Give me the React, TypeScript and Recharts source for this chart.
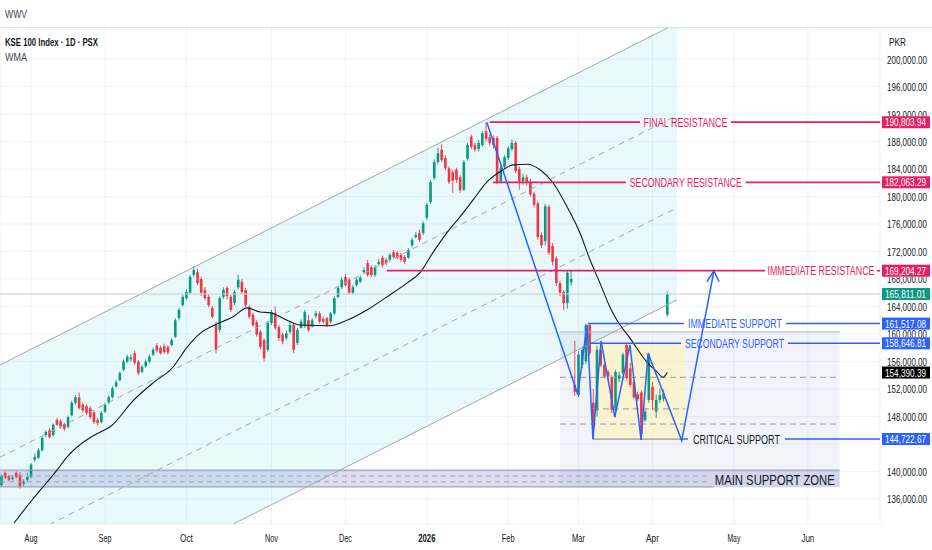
import React from "react";
import {
  ComposedChart,
  Bar,
  Line,
  Area,
  XAxis,
  YAxis,
  CartesianGrid,
  ReferenceLine,
  ReferenceArea,
} from "recharts";

// x axis is the bar index, 0 = first session of Aug 2025
const monthLabels = ["Aug", "Sep", "Oct", "Nov", "Dec", "2026", "Feb", "Mar", "Apr", "May", "Jun"];
const monthStarts = [0, 20, 42, 65, 85, 107, 129, 148, 168, 190, 210];

// daily candles [open, high, low, close], thousands of PKR, from bar -8
const firstBar = -8;
const candles = [
  [138.0, 139.6, 137.8, 139.3], [139.8, 140.0, 138.9, 139.1], [139.3, 139.5, 138.6, 138.8], [138.9, 139.4, 138.7, 139.1],
  [139.8, 140.0, 139.0, 139.2], [139.5, 139.9, 137.5, 137.8], [138.2, 138.9, 137.9, 138.5], [138.8, 139.8, 138.5, 139.2],
  // 0
  [139.2, 141.2, 139.0, 141.0], [141.7, 142.6, 141.4, 142.1], [142.0, 143.4, 141.8, 143.1], [143.1, 145.1, 142.9, 144.9],
  [145.3, 146.0, 145.0, 145.75], [146.0, 146.3, 144.8, 145.0], [145.3, 147.0, 145.1, 146.8], [147.5, 147.8, 146.6, 146.8],
  [147.3, 147.6, 146.2, 146.5], [146.9, 147.1, 145.9, 146.2],
  // 10
  [146.5, 148.1, 146.3, 147.9], [148.2, 150.3, 148.0, 150.0], [150.0, 151.1, 149.7, 150.8], [150.8, 151.5, 149.0, 149.2],
  [149.7, 150.0, 148.6, 148.9], [149.5, 149.8, 148.2, 148.5], [149.2, 149.5, 147.7, 147.9], [148.6, 148.9, 146.9, 147.2],
  [147.5, 147.8, 146.7, 147.05], [147.2, 148.8, 147.0, 148.5],
  // 20
  [148.7, 150.0, 148.5, 149.7], [150.0, 151.1, 149.8, 150.8], [150.8, 152.4, 150.6, 152.1], [152.4, 153.3, 152.2, 153.0],
  [153.3, 154.6, 153.1, 154.3], [154.8, 156.3, 154.6, 156.0], [156.0, 157.0, 155.8, 156.7], [156.3, 157.0, 156.0, 156.6],
  [157.2, 157.6, 155.5, 155.8], [156.0, 156.2, 154.0, 154.3],
  // 30
  [154.5, 155.5, 154.3, 155.2], [155.3, 156.3, 155.1, 156.0], [156.0, 157.0, 155.8, 156.7], [157.0, 158.0, 156.8, 157.7],
  [158.3, 158.7, 157.3, 157.6], [158.0, 158.3, 157.0, 157.2], [158.2, 158.6, 157.1, 157.4], [158.1, 158.4, 157.0, 157.3],
  [158.4, 159.4, 158.2, 159.1], [159.6, 162.3, 159.4, 162.0],
  // 40
  [162.3, 163.8, 162.0, 163.5], [164.2, 165.7, 164.0, 165.4], [165.2, 166.5, 165.0, 166.1], [166.0, 168.6, 165.8, 168.3],
  [168.6, 169.9, 168.3, 169.3], [169.0, 169.5, 167.1, 167.4], [168.0, 168.3, 165.5, 166.0], [166.4, 166.8, 164.9, 165.2],
  [165.4, 165.8, 163.9, 164.2], [163.8, 164.1, 162.2, 162.5],
  // 50
  [161.3, 161.8, 157.2, 157.7], [160.6, 165.5, 160.2, 165.2], [165.4, 166.8, 165.1, 166.4], [166.7, 167.0, 165.0, 165.5],
  [165.4, 165.7, 163.2, 163.5], [164.5, 166.4, 164.2, 166.1], [166.8, 168.6, 166.5, 167.9], [167.6, 168.0, 165.8, 166.1],
  [166.4, 166.7, 163.9, 164.2], [163.9, 164.2, 162.2, 162.5],
  // 60
  [162.8, 163.1, 161.0, 161.3], [161.7, 162.0, 159.6, 159.9], [160.3, 160.6, 157.8, 158.1], [159.1, 159.4, 156.0, 156.5],
  [157.7, 161.9, 157.4, 161.6], [161.6, 163.5, 161.3, 163.2], [163.1, 164.0, 160.6, 160.9], [161.0, 161.3, 159.0, 159.4],
  [159.9, 160.2, 158.5, 158.9], [159.4, 160.5, 159.1, 160.1],
  // 70
  [160.3, 161.7, 160.0, 161.3], [161.3, 161.6, 157.2, 157.7], [158.7, 160.9, 158.4, 160.6], [160.9, 162.1, 160.8, 161.8],
  [161.1, 163.5, 160.9, 163.2], [162.0, 162.8, 160.3, 160.6], [161.1, 162.3, 160.9, 162.0], [162.6, 163.4, 162.3, 163.0],
  [163.0, 163.3, 161.5, 161.8], [162.2, 162.5, 161.5, 161.8],
  // 80
  [162.3, 162.5, 161.0, 161.3], [161.8, 163.2, 161.5, 163.0], [163.0, 165.5, 162.8, 165.2], [165.4, 167.0, 165.2, 166.7],
  [166.8, 168.3, 166.5, 167.9], [168.3, 168.7, 166.9, 167.1], [167.9, 168.2, 165.7, 166.0], [166.0, 167.1, 165.8, 166.8],
  [167.1, 168.2, 166.9, 167.9], [167.6, 168.5, 167.4, 168.2],
  // 90
  [169.0, 169.7, 168.8, 169.3], [170.3, 170.8, 168.3, 168.6], [169.7, 170.0, 168.3, 168.6], [168.6, 170.0, 168.3, 169.7],
  [170.2, 170.9, 169.9, 170.5], [171.1, 171.4, 169.7, 170.0], [170.8, 171.1, 170.0, 170.3], [170.8, 171.8, 170.5, 171.5],
  [171.9, 172.2, 170.9, 171.2], [171.8, 172.1, 170.8, 171.1],
  // 100
  [171.5, 171.8, 170.5, 170.8], [171.2, 171.5, 170.2, 170.5], [171.1, 172.5, 170.9, 172.2], [172.9, 174.0, 172.6, 173.7],
  [174.1, 174.8, 173.9, 174.4], [174.7, 175.2, 173.4, 173.7], [174.7, 176.4, 174.4, 176.1], [176.9, 179.1, 176.6, 178.8],
  [179.2, 182.4, 178.9, 182.1], [182.7, 185.4, 182.4, 185.0],
  // 110
  [185.0, 187.1, 184.7, 186.3], [186.8, 187.6, 185.0, 185.3], [185.6, 186.0, 183.8, 184.1], [184.1, 184.4, 181.8, 182.1],
  [183.5, 183.9, 180.5, 182.3], [183.9, 184.2, 182.0, 182.4], [182.8, 183.1, 180.5, 180.9], [181.0, 185.3, 180.8, 185.0],
  [185.5, 187.8, 185.2, 187.5], [188.7, 189.0, 186.9, 187.2],
  // 120
  [187.5, 187.8, 186.5, 186.8], [186.9, 188.2, 186.6, 187.8], [187.5, 189.5, 187.2, 189.2], [189.5, 190.8, 188.0, 188.4],
  [188.6, 189.1, 187.4, 187.8], [188.5, 188.9, 187.0, 187.5], [188.5, 188.8, 181.8, 182.0], [182.2, 184.6, 181.9, 184.2],
  [184.3, 186.0, 184.0, 185.7], [185.6, 187.3, 185.3, 187.0],
  // 130
  [186.9, 188.3, 186.6, 187.8], [187.8, 188.1, 183.4, 183.7], [184.0, 184.4, 181.0, 182.2], [182.2, 183.3, 181.7, 182.8],
  [182.8, 183.2, 181.6, 182.2], [182.2, 182.6, 180.0, 180.3], [180.4, 180.7, 178.4, 178.8], [179.0, 179.3, 173.7, 174.1],
  [174.4, 174.8, 172.5, 172.9], [173.5, 178.9, 172.9, 178.6],
  // 140
  [178.5, 178.8, 171.5, 171.8], [172.8, 173.2, 170.0, 170.5], [171.0, 171.3, 167.0, 167.4], [167.4, 167.8, 165.5, 166.0],
  [166.1, 166.4, 163.5, 164.5], [164.5, 169.2, 163.7, 168.9], [167.5, 169.2, 167.0, 168.0], [152.6, 159.0, 151.0, 151.6],
  [151.1, 157.5, 150.8, 157.0], [155.5, 158.2, 155.0, 157.7],
  // 150
  [156.0, 161.5, 155.6, 161.3], [161.3, 161.5, 156.9, 157.2], [150.0, 152.0, 144.72, 146.4], [148.9, 158.3, 148.0, 157.7],
  [157.7, 158.6, 155.2, 155.5], [155.5, 155.8, 153.5, 153.8], [154.5, 154.8, 153.2, 153.8], [153.7, 154.0, 148.5, 149.0],
  [149.0, 154.8, 147.9, 154.5], [153.5, 154.5, 153.0, 154.0],
  // 160
  [154.3, 157.3, 154.0, 157.0], [158.4, 158.6, 153.3, 153.6], [155.0, 155.8, 152.3, 152.6], [153.0, 153.3, 150.5, 150.8],
  [151.2, 151.6, 150.2, 150.5], [151.5, 151.8, 144.6, 145.5], [147.5, 149.0, 147.2, 148.7], [150.4, 157.3, 150.0, 157.0],
  [152.3, 153.0, 148.9, 150.4], [148.7, 151.2, 147.8, 150.4],
  // 170
  [150.4, 152.1, 150.0, 151.1], [150.6, 151.9, 150.2, 151.4], [162.8, 166.2, 162.5, 165.81],
];

// WMA [bar, value]
const wmaPoints = [
  [-4.6, 132.5], [0.5, 136.0], [3, 137.6], [7, 140.2], [9.7, 142.1], [15.9, 144.9], [18.6, 145.7], [21.4, 146.5],
  [27.6, 150.3], [33, 152.9], [38.4, 155.2], [42.2, 158.1], [45.7, 160.1], [49.2, 161.2], [54.6, 162.5], [58.4, 163.8],
  [61.9, 163.2], [64.6, 163.1], [69.2, 162.0], [72.7, 161.3], [80.8, 161.2], [85.4, 162.0], [90.8, 163.5], [96.2, 165.4],
  [101.6, 167.4], [105.1, 168.9], [108.6, 171.8], [112.4, 174.7], [115.9, 177.0], [119.5, 179.5], [123.2, 182.1],
  [126.8, 183.6], [130.3, 184.6], [134.1, 184.7], [137.6, 183.9], [141.1, 182.0], [144.9, 178.5], [148.4, 174.7],
  [151.1, 170.8], [153.8, 167.4], [156.5, 163.9], [158.4, 162.0], [161.9, 159.4], [166.5, 155.9], [169.2, 154.5],
  [170.8, 153.7], [172, 154.39],
];

const priceTicks = [136, 140, 144, 148, 152, 156, 160, 164, 168, 172, 176, 180, 184, 188, 192, 196, 200];

// drawings [bar, price]
const channelTop = [[-8.38, 155.49], [174.6, 205.22]];
const channelBottom = [[-8.38, 115.22], [174.6, 164.95]];
const channelInner = [
  [[-8.38, 142.07], [174.6, 191.8]],
  [[-8.38, 128.64], [174.6, 178.37]],
];
const swingPath = [
  [123.2, 190.8], [147.8, 151.2], [150.3, 161.3], [151.9, 144.7], [154.1, 159.0], [157.8, 147.9], [161.9, 158.4],
  [164.9, 144.6], [166.8, 157.2], [175.9, 144.5], [184.6, 169.2],
];
const arrowHead = [[182.7, 167.6], [184.6, 169.2], [186.0, 167.6]];

const levelNames = [
  "FINAL RESISTANCE",
  "SECONDARY RESISTANCE",
  "IMMEDIATE RESISTANCE",
  "IMMEDIATE SUPPORT",
  "SECONDARY SUPPORT",
  "CRITICAL SUPPORT",
];
const levelPrices = [190803.94, 182063.29, 169204.27, 161517.08, 158646.81, 144722.67];
const levelStarts = [124, 124.9, 96.2, 150.5, 151.1, 175.4];

const lastClose = 165811.01;
const wmaLast = 154390.39;

const rangeBoxX = [143, 218.6];
const rangeBoxY = [137.6, 160.3];
const rangeDashes = [153.7, 146.9];
const baseBoxX = [151.9, 176.8];
const baseBoxY = [144.72, 158.65];
const baseMid = 149.1;
const zoneX = [-8.4, 218.6];
const zoneY = [137.75, 140.2];
const zoneDashes = [139.35, 138.5];

// ---- layout / style ----
const X_MIN = -8.4;
const X_MAX = 229.5;
const Y_MIN = 132.36;
const Y_MAX = 204.51;
const PLOT_H = 550 - 28 - 26;
const TAG_H = 12;
const UP = "#089981";
const DOWN = "#f23645";
const PINK = "#e91e63";
const BLUE = "#2962ff";
const INK = "#131722";
const GRAY = "#a3a6af";
const FONT = "'Liberation Sans', Arial, sans-serif";
// gap in each level line where its caption sits, and caption width in px
const LABEL_GAPS = [[164.6, 189.2], [160.8, 193.2], [198.4, 228.7], [176.5, 204.1], [175.7, 204.6], [177.6, 203.8]];
const LABEL_W = [84, 112, 107, 94, 99, 87];

const rows = candles.map((c, k) => ({
  i: firstBar + k,
  o: c[0],
  h: c[1],
  l: c[2],
  c: c[3],
  range: [c[2], c[1]],
}));
const toXY = (pts: number[][]) => pts.map(([i, v]) => ({ i, v }));
const channelFill = [
  { i: channelTop[0][0], band: [channelBottom[0][1], channelTop[0][1]] },
  { i: channelTop[1][0], band: [channelBottom[1][1], channelTop[1][1]] },
];
const tagPrices = [...levelPrices, lastClose, wmaLast].map((v) => v / 1000);

const fmt = (v: number) =>
  v.toLocaleString("en-US", { minimumFractionDigits: 2, maximumFractionDigits: 2 });

const Candle = (props: any) => {
  const { x, y, width, height, payload } = props;
  const top = Math.min(y, y + height);
  const span = Math.abs(height);
  const py = (p: number) => top + ((payload.h - p) / (payload.h - payload.l)) * span;
  const cx = x + width / 2;
  const color = payload.c >= payload.o ? UP : DOWN;
  const bTop = py(Math.max(payload.o, payload.c));
  const bH = Math.max(1, py(Math.min(payload.o, payload.c)) - bTop);
  return (
    <g>
      <line x1={cx} x2={cx} y1={top} y2={top + span} stroke={color} strokeWidth={0.9} />
      <rect x={cx - 1.3} y={bTop} width={2.6} height={bH} fill={color} />
    </g>
  );
};

const caption = (text: string, color: string, w: number, size = 12.5) => (p: any) => {
  const vb = p.viewBox;
  return (
    <text
      x={vb.x + vb.width / 2}
      y={vb.y + 0.5}
      textAnchor="middle"
      dominantBaseline="central"
      fill={color}
      fontSize={size}
      fontFamily={FONT}
      textLength={w}
      lengthAdjust="spacingAndGlyphs"
    >
      {text}
    </text>
  );
};

const axisTag = (text: string, bg: string) => (p: any) => {
  const vb = p.viewBox;
  const x = vb.x + vb.width + 2;
  return (
    <g>
      <rect x={x} y={vb.y - TAG_H / 2} width={48} height={TAG_H} fill={bg} />
      <text
        x={x + 3}
        y={vb.y + 0.5}
        dominantBaseline="central"
        fill="#fff"
        fontSize={10}
        fontFamily={FONT}
        textLength={41}
        lengthAdjust="spacingAndGlyphs"
      >
        {text}
      </text>
    </g>
  );
};

// price labels are partly hidden by the coloured tags, like on the platform
const PriceTick = (p: any) => {
  const v = p.payload.value;
  let top = p.y - 6;
  let bottom = p.y + 6;
  for (const t of tagPrices) {
    const ty = p.y - (t - v) * (PLOT_H / (Y_MAX - Y_MIN));
    const half = TAG_H / 2;
    if (ty + half <= top || ty - half >= bottom) continue;
    if (ty < p.y) top = Math.max(top, ty + half);
    else bottom = Math.min(bottom, ty - half);
  }
  if (bottom - top < 6) return null;
  const id = `pt${v}`;
  return (
    <g>
      <clipPath id={id}>
        <rect x={p.x - 4} y={top} width={52} height={bottom - top} />
      </clipPath>
      <text
        x={p.x - 1}
        y={p.y + 0.5}
        dominantBaseline="central"
        fill={INK}
        fontSize={10.5}
        fontFamily={FONT}
        textLength={40}
        lengthAdjust="spacingAndGlyphs"
        clipPath={`url(#${id})`}
      >
        {fmt(v * 1000)}
      </text>
    </g>
  );
};

const MonthTick = (p: any) => {
  const label = monthLabels[monthStarts.indexOf(p.payload.value)] ?? "";
  return (
    <text
      x={p.x}
      y={538}
      textAnchor="middle"
      dominantBaseline="central"
      fill={INK}
      fontSize={10.5}
      fontWeight={label === "2026" ? 700 : 400}
      fontFamily={FONT}
      textLength={label.length * 4.3}
      lengthAdjust="spacingAndGlyphs"
    >
      {label}
    </text>
  );
};

const seg = (a: number, b: number, p: number) => [
  { x: a, y: p },
  { x: b, y: p },
];

export default function App() {
  const levelEls = levelNames.flatMap((name, k) => {
    const p = levelPrices[k] / 1000;
    const [g0, g1] = LABEL_GAPS[k];
    const color = k < 3 ? PINK : BLUE;
    return [
      <ReferenceLine key={`la${k}`} segment={seg(levelStarts[k], g0, p)} stroke={color} strokeWidth={k < 3 ? 1.7 : 1.4} />,
      <ReferenceLine key={`lb${k}`} segment={seg(g1, X_MAX, p)} stroke={color} strokeWidth={k < 3 ? 1.7 : 1.4} />,
      <ReferenceLine
        key={`lc${k}`}
        segment={seg(g0, g1, p)}
        stroke="none"
        label={caption(name, k === 5 ? INK : color, LABEL_W[k])}
      />,
    ];
  });

  const tagEls = [
    ...levelPrices.map((v, k) => (
      <ReferenceLine key={`t${k}`} y={v / 1000} stroke="none" label={axisTag(fmt(v), k < 3 ? PINK : BLUE)} />
    )),
    <ReferenceLine key="tw" y={wmaLast / 1000} stroke="none" label={axisTag(fmt(wmaLast), "#000")} />,
  ];

  return (
    <div style={{ position: "fixed", left: 0, top: 0, width: 932, height: 550, background: "#fff" }}>
      <ComposedChart
        width={932}
        height={550}
        data={rows}
        margin={{ top: 28, right: 0, bottom: 0, left: 0 }}
      >
        <CartesianGrid stroke="#f0f3fa" />
        <XAxis
          dataKey="i"
          type="number"
          domain={[X_MIN, X_MAX]}
          allowDataOverflow
          ticks={monthStarts}
          interval={0}
          tick={<MonthTick />}
          axisLine={false}
          tickLine={false}
          height={26}
        />
        <YAxis
          orientation="right"
          type="number"
          domain={[Y_MIN, Y_MAX]}
          allowDataOverflow
          ticks={priceTicks}
          interval={0}
          tick={<PriceTick />}
          axisLine={false}
          tickLine={false}
          width={52}
        />

        <Area
          data={channelFill}
          dataKey="band"
          type="linear"
          stroke="none"
          fill="#26c6da"
          fillOpacity={0.1}
          isAnimationActive={false}
        />
        <ReferenceArea x1={rangeBoxX[0]} x2={rangeBoxX[1]} y1={rangeBoxY[0]} y2={rangeBoxY[1]} fill="#5c6bc0" fillOpacity={0.08} />
        <ReferenceArea x1={baseBoxX[0]} x2={baseBoxX[1]} y1={baseBoxY[0]} y2={baseBoxY[1]} fill="#fff4b5" fillOpacity={0.6} />
        <ReferenceArea x1={zoneX[0]} x2={zoneX[1]} y1={zoneY[0]} y2={zoneY[1]} fill="#5e5ab8" fillOpacity={0.2} />

        <ReferenceLine segment={seg(rangeBoxX[0], rangeBoxX[1], rangeBoxY[1])} stroke="#b2b5be" />
        {rangeDashes.map((v) => (
          <ReferenceLine key={`rd${v}`} segment={seg(rangeBoxX[0], rangeBoxX[1], v)} stroke="#9598a1" strokeDasharray="6 4" />
        ))}
        <ReferenceLine segment={seg(baseBoxX[0], baseBoxX[1], baseMid)} stroke="#9598a1" strokeDasharray="6 4" />
        <ReferenceLine segment={seg(baseBoxX[0], levelStarts[5], baseBoxY[0])} stroke="#9598a1" strokeWidth={1.3} />
        <ReferenceLine segment={seg(zoneX[0], zoneX[1], zoneY[1])} stroke="#9598a1" />
        <ReferenceLine segment={seg(zoneX[0], 184.6, zoneY[0])} stroke="#9598a1" />
        {zoneDashes.map((v) => (
          <ReferenceLine key={`zd${v}`} segment={seg(zoneX[0], 183.5, v)} stroke="#9da0b8" strokeDasharray="5 4" />
        ))}
        <ReferenceLine
          segment={seg(183.5, zoneX[1], (zoneY[0] + zoneY[1]) / 2)}
          stroke="none"
          label={caption("MAIN SUPPORT ZONE", INK, 120, 15.5)}
        />

        <Line data={toXY(channelTop)} dataKey="v" stroke={GRAY} strokeWidth={1} dot={false} isAnimationActive={false} />
        <Line data={toXY(channelBottom)} dataKey="v" stroke={GRAY} strokeWidth={1} dot={false} isAnimationActive={false} />
        {channelInner.map((pts, k) => (
          <Line
            key={`ci${k}`}
            data={toXY(pts)}
            dataKey="v"
            stroke={GRAY}
            strokeWidth={1}
            strokeDasharray="6 5"
            dot={false}
            isAnimationActive={false}
          />
        ))}

        <ReferenceLine y={lastClose / 1000} stroke="#c3cfcc" strokeWidth={1} label={axisTag(fmt(lastClose), UP)} />

        <Bar dataKey="range" barSize={3} shape={Candle} isAnimationActive={false} />
        <Line
          data={toXY(wmaPoints)}
          dataKey="v"
          type="monotone"
          stroke={INK}
          strokeWidth={1.1}
          dot={false}
          isAnimationActive={false}
        />

        {levelEls}
        <Line data={toXY(swingPath)} dataKey="v" stroke={BLUE} strokeWidth={1.5} dot={false} isAnimationActive={false} />
        <Line data={toXY(arrowHead)} dataKey="v" stroke={BLUE} strokeWidth={1.5} dot={false} isAnimationActive={false} />
        {tagEls}
      </ComposedChart>

      <svg
        width={932}
        height={550}
        style={{ position: "absolute", left: 0, top: 0, pointerEvents: "none" }}
      >
        <line x1={0} x2={932} y1={27.5} y2={27.5} stroke="#e0e3eb" />
        <text x={5} y={18} fontSize={11} fontFamily={FONT} fill="#434651" textLength={22} lengthAdjust="spacingAndGlyphs">
          WWV
        </text>
        <text x={5} y={46} fontSize={11} fontWeight={700} fontFamily={FONT} fill={INK} textLength={93} lengthAdjust="spacingAndGlyphs">
          KSE 100 Index · 1D · PSX
        </text>
        <text x={5} y={61} fontSize={11} fontFamily={FONT} fill="#434651" textLength={22} lengthAdjust="spacingAndGlyphs">
          WMA
        </text>
        <text x={889} y={46} fontSize={10.5} fontFamily={FONT} fill={INK} textLength={17} lengthAdjust="spacingAndGlyphs">
          PKR
        </text>
      </svg>
    </div>
  );
}
